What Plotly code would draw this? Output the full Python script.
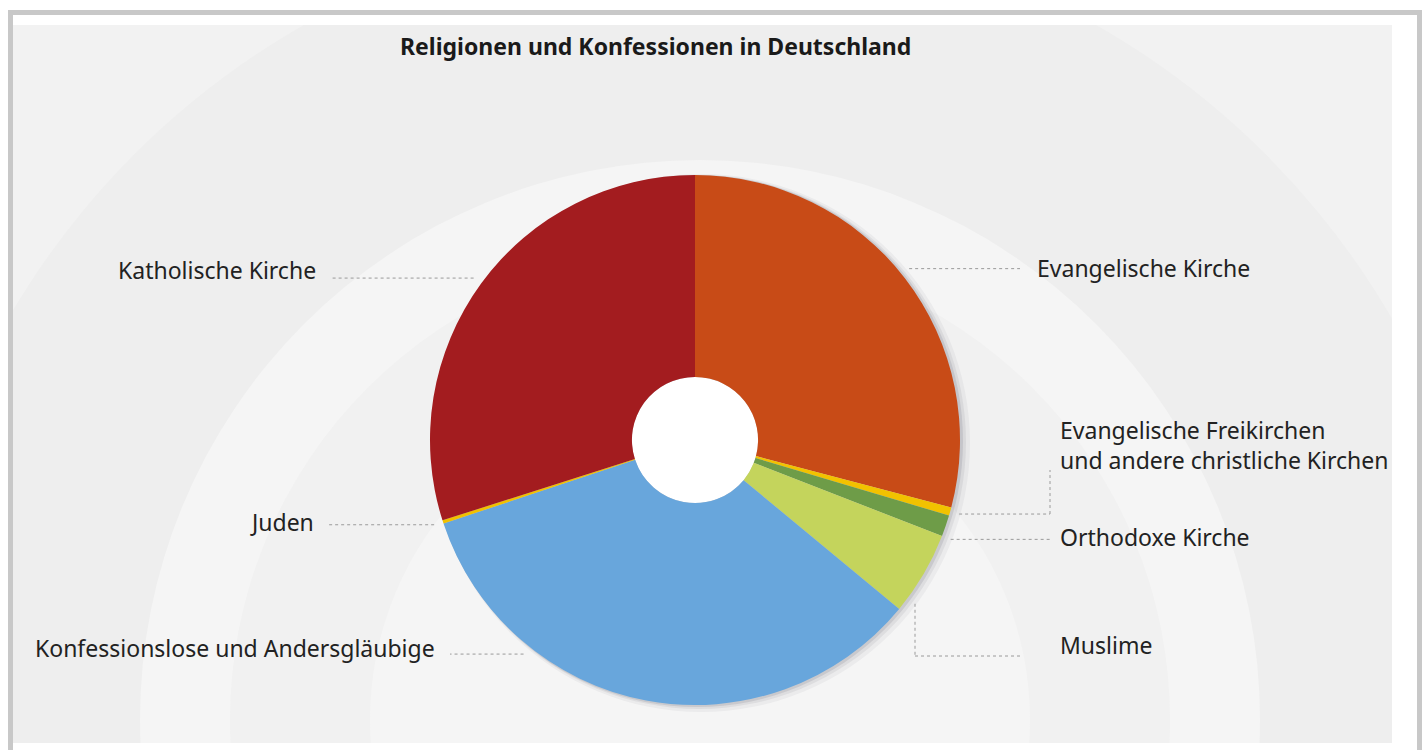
import math
import plotly.graph_objects as go

# ---------------- data ----------------
categories = [
    "Evangelische Kirche",
    "Evangelische Freikirchen und andere christliche Kirchen",
    "Orthodoxe Kirche",
    "Muslime",
    "Konfessionslose und Andersgläubige",
    "Juden",
    "Katholische Kirche",
]
shares = [29.1, 0.5, 1.3, 5.1, 33.9, 0.2, 29.9]
label_texts = [
    "Evangelische Kirche",
    "Evangelische Freikirchen<br>und andere christliche Kirchen",
    "Orthodoxe Kirche",
    "Muslime",
    "Konfessionslose und Andersgläubige",
    "Juden",
    "Katholische Kirche",
]
colors = ["#c84b17", "#f2c200", "#6e9c48", "#c4d45c", "#68a6dc", "#f0c000", "#a31c1f"]
title_text = "Religionen und Konfessionen in Deutschland"

# ---------------- layout geometry (pixels) ----------------
W, H = 1423, 750
CX, CY, R = 695, 440, 265
HOLE = 0.238
FONT = "Noto Sans"


def px(x):
    return x / W


def py(y):
    return 1 - y / H


# label placement: (text x, text y, anchor side, fraction within slice, route)
label_style = [
    (1035, 268, "left", 0.49, ("h", 1020)),
    (1058, 445, "left", 0.5, ("hv", 1050, 470)),
    (1058, 537, "left", 1.0, ("h", 1050)),
    (1058, 645, "left", 0.84, ("vh", 656, 1022)),
    (437, 648, "right", 0.73, ("h", 450)),
    (316, 522, "right", 0.5, ("h", 328)),
    (318, 270, "right", 0.5, ("h", 330)),
]

fig = go.Figure()

fig.add_trace(go.Pie(
    labels=categories,
    values=shares,
    sort=False,
    direction="clockwise",
    rotation=0,
    hole=HOLE,
    marker=dict(colors=colors, line=dict(width=0)),
    textinfo="none",
    hoverinfo="label+percent",
    showlegend=False,
    domain=dict(x=[px(CX - R), px(CX + R)], y=[py(CY + R), py(CY - R)]),
))

shapes = []

# panel background with faint concentric swirl rings
shapes.append(dict(type="rect", xref="paper", yref="paper", x0=px(13), x1=px(1392),
                   y0=py(743), y1=py(25), fillcolor="#f2f2f2", line=dict(width=0), layer="below"))
ring_cx, ring_cy = 700, 720
for r, c in [(800, "#eeeeee"), (560, "#f5f5f5"), (470, "#f1f1f1"), (330, "#f5f5f5")]:
    shapes.append(dict(type="circle", xref="paper", yref="paper",
                       x0=px(ring_cx - r), x1=px(ring_cx + r),
                       y0=py(ring_cy + r), y1=py(ring_cy - r),
                       fillcolor=c, line=dict(width=0), layer="below"))
# cover overflow outside the panel
for (x0, y0, x1, y1) in [(0, -400, W, 25), (0, 743, W, 1600), (1392, -400, 2000, 1600), (-800, -400, 13, 1600)]:
    shapes.append(dict(type="rect", xref="paper", yref="paper", x0=px(x0), x1=px(x1),
                       y0=py(y1), y1=py(y0), fillcolor="white", line=dict(width=0), layer="below"))
# gray frame
shapes.append(dict(type="rect", xref="paper", yref="paper", x0=px(10.5), x1=px(1419.5),
                   y0=py(760), y1=py(12.5), fillcolor="rgba(0,0,0,0)",
                   line=dict(color="#c8c8c8", width=5), layer="below"))

# soft pie shadow
for dx, dr, a in [(6, 4, 0.05), (4, 2, 0.08), (2, 1, 0.12)]:
    shapes.append(dict(type="circle", xref="paper", yref="paper",
                       x0=px(CX - R + dx - dr), x1=px(CX + R + dx + dr),
                       y0=py(CY + R + dx / 2 + dr), y1=py(CY - R + dx / 2 - dr),
                       fillcolor=f"rgba(60,60,80,{a})", line=dict(width=0), layer="below"))
# white hole
rh = R * HOLE
shapes.append(dict(type="circle", xref="paper", yref="paper",
                   x0=px(CX - rh), x1=px(CX + rh), y0=py(CY + rh), y1=py(CY - rh),
                   fillcolor="white", line=dict(width=0), layer="below"))

annotations = []
total = sum(shares)
cum = 0.0
line_style = dict(color="#9a9a9a", width=1, dash="dot")
for val, txt, (tx, ty, side, frac, route) in zip(shares, label_texts, label_style):
    theta = math.radians((cum + frac * val) / total * 360)
    cum += val
    ax = CX + 1.035 * R * math.sin(theta)
    ay = CY - 1.035 * R * math.cos(theta)
    pts = [(ax, ay)]
    if route[0] == "h":
        pts.append((route[1], ay))
    elif route[0] == "hv":
        pts.append((route[1], ay))
        pts.append((route[1], route[2]))
    elif route[0] == "vh":
        pts.append((ax, route[1]))
        pts.append((route[2], route[1]))
    for (x0, y0), (x1, y1) in zip(pts[:-1], pts[1:]):
        shapes.append(dict(type="line", xref="paper", yref="paper",
                           x0=px(x0), y0=py(y0), x1=px(x1), y1=py(y1),
                           line=line_style, layer="above"))
    annotations.append(dict(text=txt, x=px(tx), y=py(ty), xref="paper", yref="paper",
                            xanchor=side, yanchor="middle", showarrow=False, align="left",
                            font=dict(family=FONT, size=23, color="#222222")))

annotations.append(dict(text="<b>" + title_text + "</b>", x=px(655), y=py(46),
                        xref="paper", yref="paper", xanchor="center", yanchor="middle",
                        showarrow=False, font=dict(family=FONT, size=23, color="#1a1a1a")))

fig.update_layout(
    width=W, height=H, autosize=False,
    margin=dict(l=0, r=0, t=0, b=0),
    paper_bgcolor="white", plot_bgcolor="white",
    shapes=shapes, annotations=annotations,
)

fig.write_html("out.html")
